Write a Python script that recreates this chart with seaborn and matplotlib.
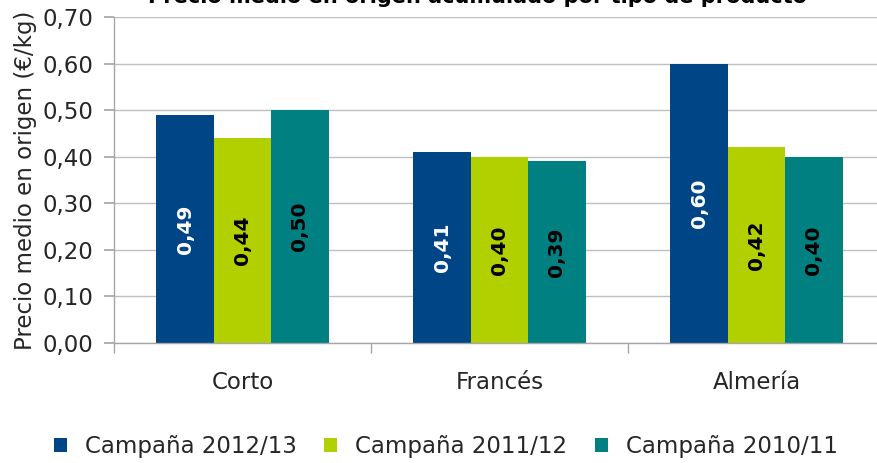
import matplotlib
matplotlib.use("Agg")
import matplotlib.pyplot as plt
import seaborn as sns
import pandas as pd
from matplotlib.ticker import FixedLocator

categories = ["Corto", "Francés", "Almería"]
series = ["Campaña 2012/13", "Campaña 2011/12", "Campaña 2010/11"]
values_2012_13 = [0.49, 0.41, 0.60]
values_2011_12 = [0.44, 0.40, 0.42]
values_2010_11 = [0.50, 0.39, 0.40]
colors = ["#004586", "#B2D000", "#008080"]
label_colors = ["white", "black", "black"]
yticks = [0.0, 0.1, 0.2, 0.3, 0.4, 0.5, 0.6, 0.7]

title = "Precio medio en origen acumulado por tipo de producto"
ylabel = "Precio medio en origen (€/kg)"

rows = []
for s, vals in zip(series, [values_2012_13, values_2011_12, values_2010_11]):
    for c, v in zip(categories, vals):
        rows.append({"cat": c, "serie": s, "valor": v})
df = pd.DataFrame(rows)

sns.set_theme(style="white")
plt.rcParams["font.family"] = ["DejaVu Sans"]

fig = plt.figure(figsize=(8.77, 4.63), dpi=100)
ax = fig.add_axes([114/877, 1-343/463, 771/877, 326/463])

sns.barplot(data=df, x="cat", y="valor", hue="serie", order=categories,
            hue_order=series, palette=colors, width=0.67, saturation=1,
            linewidth=0, ax=ax, legend=True)

for cont, lc in zip(ax.containers, label_colors):
    labs = [f"{b.get_height():.2f}".replace(".", ",") for b in cont]
    ax.bar_label(cont, labels=labs, label_type="center", rotation=90,
                 color=lc, fontsize=14.5, fontweight="bold")

ax.set_ylim(0, 0.70)
ax.set_xlim(-0.5, 2.5)
ax.set_yticks(yticks)
ax.set_yticklabels([f"{v:.2f}".replace(".", ",") for v in yticks])
ax.grid(axis="y", color="#BFBFBF", linewidth=1)
ax.set_axisbelow(True)
for s in ["top", "right"]:
    ax.spines[s].set_visible(False)
for s in ["left", "bottom"]:
    ax.spines[s].set_color("#A6A6A6")
    ax.spines[s].set_linewidth(1)

ax.tick_params(axis="y", which="major", length=7, color="#A6A6A6",
               labelsize=16.5, pad=8, left=True, labelcolor="#262626")
ax.set_xticks(range(3))
ax.set_xticklabels(categories)
ax.xaxis.set_minor_locator(FixedLocator([-0.5, 0.5, 1.5, 2.5]))
ax.tick_params(axis="x", which="major", length=0, labelsize=16.5, pad=20,
               labelcolor="#262626")
ax.tick_params(axis="x", which="minor", length=7, color="#A6A6A6",
               bottom=True)
ax.set_xlabel("")
ax.set_ylabel(ylabel, fontsize=16.5, color="#262626", labelpad=4)

handles, labels = ax.get_legend_handles_labels()
ax.legend_.remove()
fig.legend(handles, labels, loc="center", bbox_to_anchor=(446/877, 1-447/463),
           ncol=3, frameon=False, fontsize=16.5, handlelength=0.55,
           handleheight=0.55, handletextpad=0.8, columnspacing=1.2)

fig.text(477/877, 1-3/463, title, ha="center", va="baseline",
         fontsize=15, fontweight="bold", color="black")

fig.savefig("out.png", dpi=100)
